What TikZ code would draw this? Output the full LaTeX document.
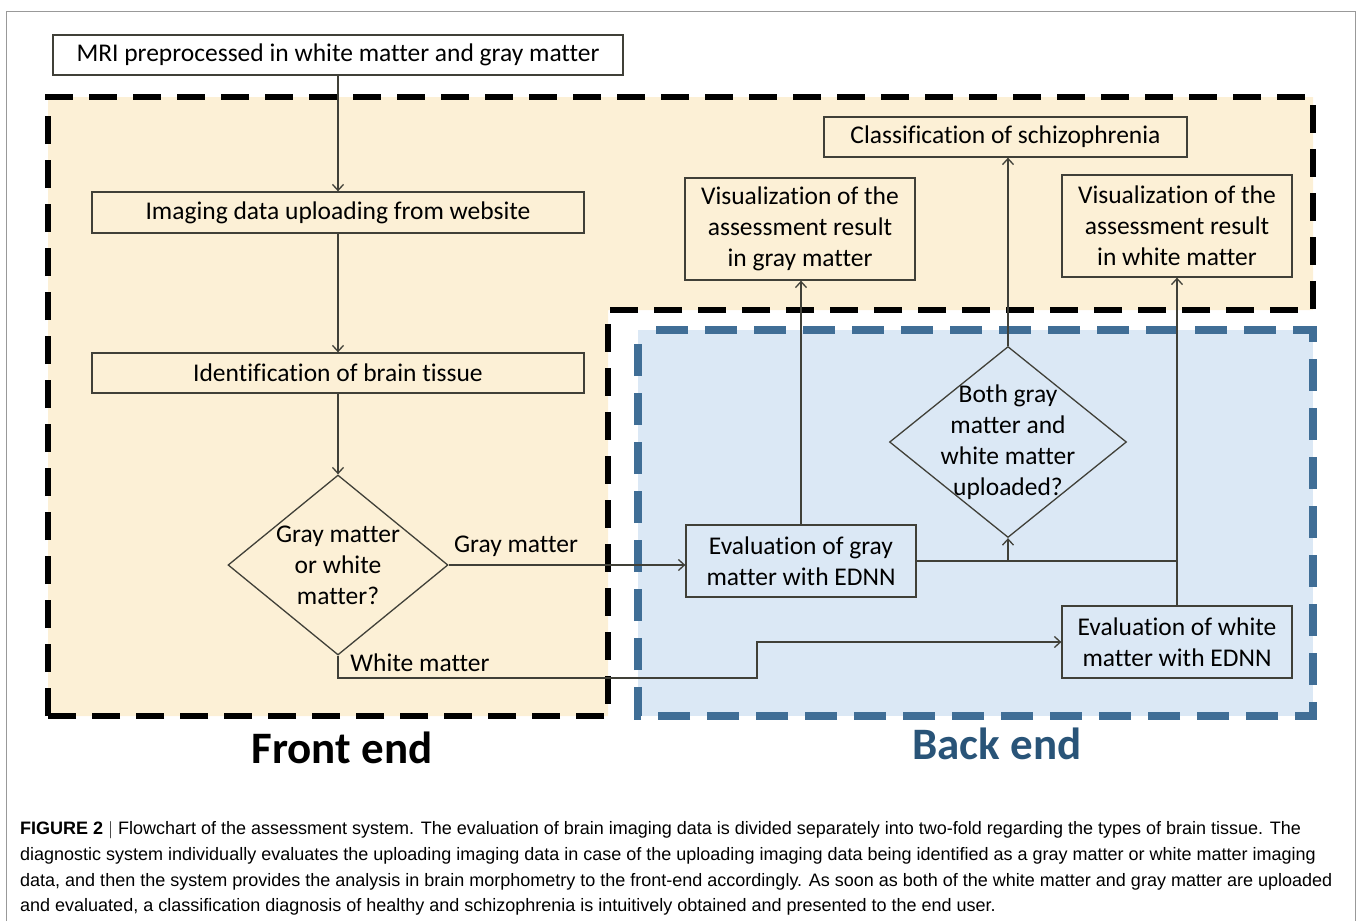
\documentclass[tikz,border=0pt]{standalone}
\usepackage{fontspec}
\setmainfont{Carlito}[Ligatures=NoCommon]
\newfontfamily\capfont{Liberation Sans}
\usepackage{xcolor}
\usepackage{tikz}
\usetikzlibrary{shapes.geometric, arrows.meta, positioning}
\definecolor{frontfill}{rgb}{0.99, 0.94, 0.84}
\definecolor{backfill}{rgb}{0.86, 0.91, 0.96}
\definecolor{backdash}{rgb}{0.25, 0.43, 0.59}
\definecolor{backtext}{rgb}{0.16, 0.33, 0.47}
\definecolor{boxline}{rgb}{0.25, 0.25, 0.22}
\tikzstyle{procbox} = [rectangle, draw=boxline, line width=1.3pt, fill=frontfill, align=center, font=\fontsize{25.5}{31}\selectfont, inner sep=0pt]
\tikzstyle{decision} = [diamond, draw=boxline, line width=1.3pt, inner sep=0pt, label={[align=center, font=\fontsize{25.5}{31}\selectfont]center:#1}]
\tikzstyle{arrow} = [line width=1.3pt, draw=boxline, -{Straight Barb[length=6pt,width=11pt]}]
\tikzstyle{caption} = [anchor=west, inner sep=0pt, font=\capfont\fontsize{18}{20}\selectfont]

\begin{document}
\begin{tikzpicture}[x=1pt, y=-1pt]
\useasboundingbox (0,0) rectangle (1358,922);
\draw[line width=1pt, black!40] (6,921) -- (6,11) -- (1355,11) -- (1355,921);

% front end and back end areas
\fill[frontfill] (48,97) -- (1313,97) -- (1313,310) -- (608,310) -- (608,716) -- (48,716) -- cycle;
\fill[backfill] (638,330) rectangle (1313,716);
\draw[black, line width=6pt, dash pattern=on 28pt off 16pt]
(48,716) -- (48,97) -- (1313,97) -- (1313,310) -- (608,310) -- (608,716) -- cycle;
\draw[backdash, line width=8pt, dash pattern=on 32pt off 17pt]
(656,330) -- (1313,330) -- (1313,716) -- (638,716) -- (638,330);

% front end
\node[procbox, fill=white, minimum width=570pt, minimum height=40pt] (mri) at (338,55) {MRI preprocessed in white matter and gray matter};
\node[procbox, minimum width=492pt, minimum height=41pt] (upload) at (338,212.5) {Imaging data uploading from website};
\node[procbox, minimum width=492pt, minimum height=40pt] (tissue) at (338,373) {Identification of brain tissue};
\node[decision={Gray matter\\or white\\matter?}, fill=frontfill, minimum width=220pt, minimum height=180pt] (whichtissue) at (338,565) {};
\node[procbox, minimum width=230pt, minimum height=102pt] (visgray) at (800,229) {Visualization of the\\assessment result\\in gray matter};
\node[procbox, minimum width=363pt, minimum height=40pt] (classify) at (1005.5,137) {Classification of schizophrenia};
\node[procbox, minimum width=230pt, minimum height=102pt] (viswhite) at (1177,226) {Visualization of the\\assessment result\\in white matter};

% back end
\node[procbox, fill=backfill, minimum width=230pt, minimum height=72pt] (evalgray) at (801,561) {Evaluation of gray\\matter with EDNN};
\node[procbox, fill=backfill, minimum width=230pt, minimum height=72pt] (evalwhite) at (1177,642) {Evaluation of white\\matter with EDNN};
\node[decision={Both gray\\matter and\\white matter\\uploaded?}, fill=backfill, minimum width=237pt, minimum height=191pt] (bothup) at (1008,442) {};

\node[font=\fontsize{25.5}{31}\selectfont] (graylabel) at (516,546) {Gray matter};
\node[font=\fontsize{25.5}{31}\selectfont] (whitelabel) at (420,663) {White matter};
\coordinate (wmbend) at (757,678);
\coordinate (joinpt) at (evalwhite.north |- evalgray.east);

\draw[arrow] (mri) -- (upload);
\draw[arrow] (upload) -- (tissue);
\draw[arrow] (tissue) -- (whichtissue.north);
\draw[arrow] (whichtissue.east) -- (whichtissue.east -| evalgray.west);
\draw[arrow] (whichtissue.south) |- (wmbend) |- (evalwhite.west);
\draw[arrow] (evalgray.north) -- (evalgray.north |- visgray.south);
\draw[line width=1.3pt, draw=boxline] (evalgray.east) -- (joinpt);
\draw[arrow] (bothup.south |- evalgray.east) -- (bothup.south);
\draw[arrow] (evalwhite.north) -- (viswhite.south);
\draw[arrow] (bothup.north) -- (bothup.north |- classify.south);

\node[font=\bfseries\fontsize{45}{50}\selectfont] (frontend) at (342,748) {Front end};
\node[font=\bfseries\fontsize{45}{50}\selectfont, text=backtext] (backend) at (997,744) {Back end};

% caption
\node[caption] (cap1) at (20,830) {\textbf{FIGURE 2} $|$ Flowchart of the assessment system. The evaluation of brain imaging data is divided separately into two-fold regarding the types of brain tissue. The};
\node[caption] (cap2) at (20,856) {diagnostic system individually evaluates the uploading imaging data in case of the uploading imaging data being identified as a gray matter or white matter imaging};
\node[caption] (cap3) at (20,882) {data, and then the system provides the analysis in brain morphometry to the front-end accordingly. As soon as both of the white matter and gray matter are uploaded};
\node[caption] (cap4) at (20,907) {and evaluated, a classification diagnosis of healthy and schizophrenia is intuitively obtained and presented to the end user.};
\end{tikzpicture}
\end{document}
